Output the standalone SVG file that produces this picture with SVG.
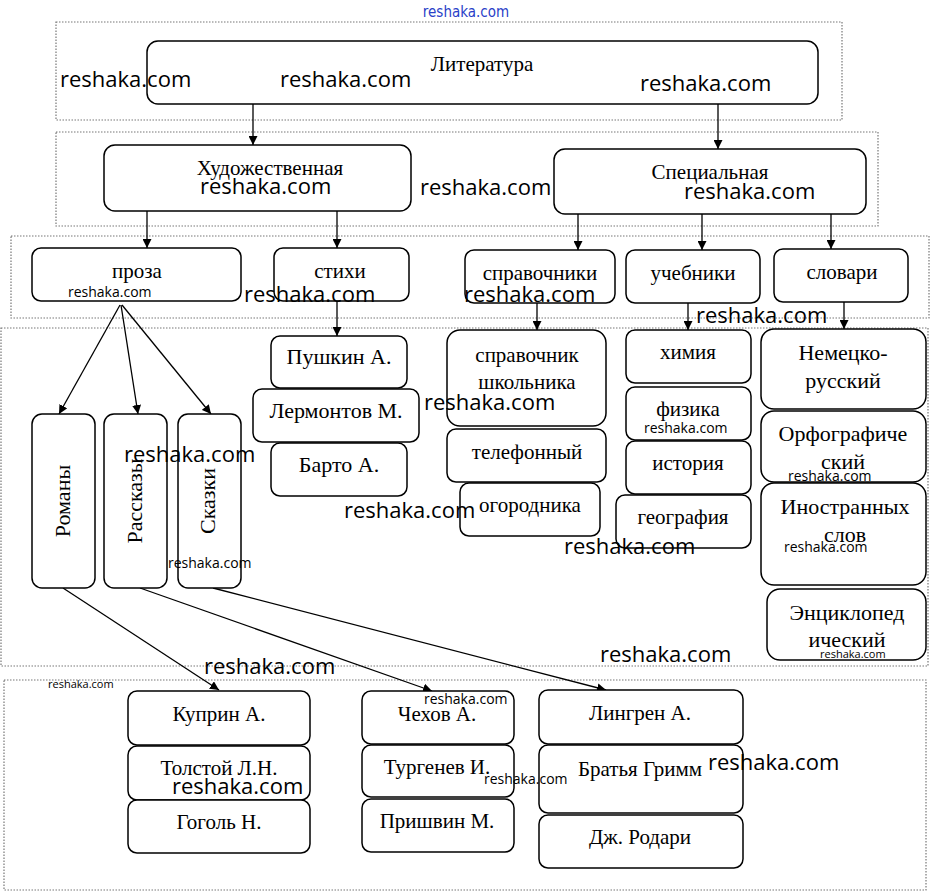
<svg xmlns="http://www.w3.org/2000/svg" width="930" height="892" viewBox="0 0 930 892">
<defs>
<marker id="ar" viewBox="0 0 10 10" refX="10" refY="5" markerWidth="9" markerHeight="9" markerUnits="userSpaceOnUse" orient="auto"><path d="M0,0 L10,5 L0,10 z" fill="#000"/></marker>
<style>
.frame{fill:none;stroke:#777;stroke-width:1.2;stroke-dasharray:1.5 1.5}
.n{fill:#fff;stroke:#000;stroke-width:1.5}
.t{font-family:"Liberation Serif","Times New Roman",serif;font-size:21px;fill:#000;text-anchor:middle}
.b{font-size:22px}
.c{stroke:#000;stroke-width:1.3;fill:none;marker-end:url(#ar)}
.w{font-family:"Open Sans","Noto Sans",sans-serif;fill:#000}
.wb{font-size:22px}
.ws{font-size:14px}
.wx{font-size:11px}
</style>
</defs>
<rect width="930" height="892" fill="#fff"/>
<g id="frames">
<rect class="frame" x="56" y="22" width="786" height="98"/>
<rect class="frame" x="56" y="132" width="822" height="94"/>
<rect class="frame" x="11" y="236" width="918" height="82"/>
<rect class="frame" x="1" y="328" width="927" height="338"/>
<rect class="frame" x="4" y="680" width="922" height="210"/>
</g>
<g id="connectors">
<line class="c" x1="253" y1="104" x2="253" y2="145"/>
<line class="c" x1="718" y1="104" x2="718" y2="149"/>
<line class="c" x1="147" y1="211" x2="147" y2="248"/>
<line class="c" x1="337" y1="211" x2="337" y2="248"/>
<line class="c" x1="578" y1="214" x2="578" y2="250"/>
<line class="c" x1="702" y1="214" x2="702" y2="250"/>
<line class="c" x1="831" y1="214" x2="831" y2="249"/>
<line class="c" x1="337" y1="301" x2="337" y2="336"/>
<line class="c" x1="537" y1="303" x2="537" y2="330"/>
<line class="c" x1="688" y1="303" x2="688" y2="330"/>
<line class="c" x1="844" y1="302" x2="844" y2="329"/>
<line class="c" x1="120" y1="305" x2="59" y2="414"/>
<line class="c" x1="121" y1="305" x2="138" y2="414"/>
<line class="c" x1="122" y1="305" x2="211" y2="414"/>
<line class="c" x1="63" y1="588" x2="219" y2="690"/>
<line class="c" x1="140" y1="588" x2="432" y2="691"/>
<line class="c" x1="213" y1="588" x2="606" y2="690"/>
</g>
<g id="n-literatura"><rect class="n" x="147" y="41" width="671" height="63" rx="11"/><text class="t" x="482" y="71">Литература</text></g>
<g id="n-hud"><rect class="n" x="104" y="145" width="307" height="66" rx="11"/><text class="t" x="270" y="175">Художественная</text></g>
<g id="n-spec"><rect class="n" x="554" y="149" width="312" height="65" rx="11"/><text class="t" x="710" y="179">Специальная</text></g>
<g id="n-proza"><rect class="n" x="32" y="248" width="209" height="53" rx="9"/><text class="t" x="137" y="278">проза</text></g>
<g id="n-stihi"><rect class="n" x="274" y="248" width="135" height="53" rx="9"/><text class="t" x="340" y="278">стихи</text></g>
<g id="n-sprav"><rect class="n" x="465" y="250" width="150" height="53" rx="9"/><text class="t" x="540" y="280">справочники</text></g>
<g id="n-ucheb"><rect class="n" x="626" y="250" width="134" height="53" rx="9"/><text class="t" x="693" y="280">учебники</text></g>
<g id="n-slov"><rect class="n" x="774" y="249" width="134" height="53" rx="9"/><text class="t" x="842" y="279">словари</text></g>
<g id="n-romany"><rect class="n" x="32" y="414" width="63" height="174" rx="10"/><text class="t b" transform="translate(70,501) rotate(-90)">Романы</text></g>
<g id="n-rasskazy"><rect class="n" x="104" y="414" width="63" height="174" rx="10"/><text class="t b" transform="translate(142,501) rotate(-90)">Рассказы</text></g>
<g id="n-skazki"><rect class="n" x="178" y="414" width="63" height="174" rx="10"/><text class="t b" transform="translate(215,501) rotate(-90)">Сказки</text></g>
<g id="n-pushkin"><rect class="n" x="271" y="336" width="136" height="52" rx="9"/><text class="t b" x="339" y="364">Пушкин А.</text></g>
<g id="n-lermontov"><rect class="n" x="253" y="389" width="166" height="53" rx="9"/><text class="t b" x="336" y="418">Лермонтов М.</text></g>
<g id="n-barto"><rect class="n" x="271" y="443" width="136" height="53" rx="9"/><text class="t b" x="339" y="472">Барто А.</text></g>
<g id="n-shkol"><rect class="n" x="447" y="330" width="159" height="96" rx="13"/><text class="t" x="527" y="362">справочник</text><text class="t" x="527" y="389">школьника</text></g>
<g id="n-telef"><rect class="n" x="447" y="429" width="159" height="53" rx="9"/><text class="t" x="527" y="459">телефонный</text></g>
<g id="n-ogorod"><rect class="n" x="460" y="483" width="140" height="53" rx="9"/><text class="t" x="530" y="512">огородника</text></g>
<g id="n-himiya"><rect class="n" x="626" y="330" width="125" height="53" rx="9"/><text class="t" x="688" y="359">химия</text></g>
<g id="n-fizika"><rect class="n" x="626" y="387" width="125" height="53" rx="9"/><text class="t" x="688" y="416">физика</text></g>
<g id="n-istoriya"><rect class="n" x="626" y="441" width="125" height="53" rx="9"/><text class="t" x="688" y="470">история</text></g>
<g id="n-geogr"><rect class="n" x="616" y="495" width="135" height="53" rx="9"/><text class="t" x="683" y="524">география</text></g>
<g id="n-nem"><rect class="n" x="761" y="329" width="165" height="80" rx="13"/><text class="t b" x="843" y="360">Немецко-</text><text class="t b" x="843" y="388">русский</text></g>
<g id="n-orf"><rect class="n" x="761" y="411" width="165" height="71" rx="13"/><text class="t b" x="843" y="441">Орфографиче</text><text class="t b" x="843" y="469">ский</text></g>
<g id="n-inostr"><rect class="n" x="761" y="483" width="165" height="102" rx="13"/><text class="t b" x="845" y="514">Иностранных</text><text class="t b" x="845" y="542">слов</text></g>
<g id="n-encikl"><rect class="n" x="767" y="589" width="159" height="71" rx="13"/><text class="t b" x="847" y="620">Энциклопед</text><text class="t b" x="847" y="647">ический</text></g>
<g id="n-kuprin"><rect class="n" x="128" y="691" width="182" height="54" rx="9"/><text class="t" x="219" y="721">Куприн А.</text></g>
<g id="n-tolstoy"><rect class="n" x="128" y="746" width="182" height="54" rx="9"/><text class="t" x="219" y="775">Толстой Л.Н.</text></g>
<g id="n-gogol"><rect class="n" x="128" y="800" width="182" height="53" rx="9"/><text class="t" x="219" y="829">Гоголь Н.</text></g>
<g id="n-chehov"><rect class="n" x="362" y="691" width="152" height="53" rx="9"/><text class="t" x="437" y="721">Чехов А.</text></g>
<g id="n-turgenev"><rect class="n" x="362" y="745" width="152" height="52" rx="9"/><text class="t" x="437" y="774">Тургенев И.</text></g>
<g id="n-prishvin"><rect class="n" x="362" y="799" width="152" height="53" rx="9"/><text class="t" x="437" y="828">Пришвин М.</text></g>
<g id="n-lingren"><rect class="n" x="539" y="690" width="204" height="54" rx="9"/><text class="t" x="640" y="720">Лингрен А.</text></g>
<g id="n-grimm"><rect class="n" x="539" y="745" width="204" height="68" rx="9"/><text class="t" x="640" y="776">Братья Гримм</text></g>
<g id="n-rodari"><rect class="n" x="539" y="815" width="204" height="53" rx="9"/><text class="t" x="640" y="844">Дж. Родари</text></g>
<g id="watermarks">
<text x="466" y="17" text-anchor="middle" font-family="'Liberation Sans Narrow','DejaVu Sans Condensed',sans-serif" font-size="15" fill="#2a3fc8">reshaka.com</text>
<text class="w wb" x="60" y="87">reshaka.com</text>
<text class="w wb" x="280" y="87">reshaka.com</text>
<text class="w wb" x="640" y="91">reshaka.com</text>
<text class="w wb" x="200" y="194">reshaka.com</text>
<text class="w wb" x="420" y="195">reshaka.com</text>
<text class="w wb" x="684" y="199">reshaka.com</text>
<text class="w ws" x="68" y="297">reshaka.com</text>
<text class="w wb" x="244" y="302">reshaka.com</text>
<text class="w wb" x="464" y="302">reshaka.com</text>
<text class="w wb" x="696" y="323">reshaka.com</text>
<text class="w wb" x="424" y="410">reshaka.com</text>
<text class="w ws" x="644" y="433">reshaka.com</text>
<text class="w wb" x="124" y="462">reshaka.com</text>
<text class="w ws" x="788" y="481">reshaka.com</text>
<text class="w wb" x="344" y="518">reshaka.com</text>
<text class="w ws" x="784" y="552">reshaka.com</text>
<text class="w wb" x="564" y="554">reshaka.com</text>
<text class="w ws" x="168" y="568">reshaka.com</text>
<text class="w wx" x="820" y="658">reshaka.com</text>
<text class="w wb" x="600" y="662">reshaka.com</text>
<text class="w wb" x="204" y="674">reshaka.com</text>
<text class="w wx" x="48" y="688">reshaka.com</text>
<text class="w ws" x="424" y="704">reshaka.com</text>
<text class="w wb" x="708" y="770">reshaka.com</text>
<text class="w ws" x="484" y="784">reshaka.com</text>
<text class="w wb" x="172" y="794">reshaka.com</text>
</g>
</svg>
